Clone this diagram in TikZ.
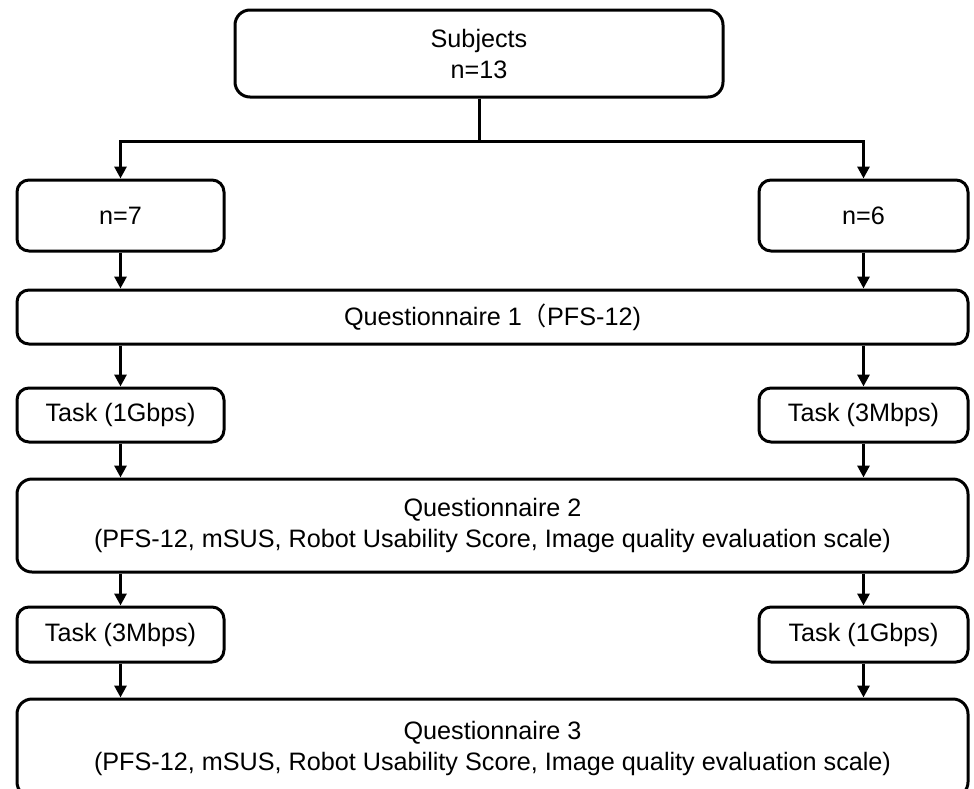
\documentclass[tikz,border=0pt]{standalone}
\usepackage{fontspec}
\setmainfont{Liberation Sans}
\newfontfamily\cjk{Noto Sans CJK JP}
\usetikzlibrary{arrows.meta}
\begin{document}
\begin{tikzpicture}[x=1pt,y=-1pt,
  box/.style={draw, line width=3pt, rounded corners=12pt, inner sep=0pt, align=center,
    font=\fontsize{25.2}{31}\selectfont},
  arr/.style={line width=3pt, -{Triangle[length=12pt,width=12pt]}}]
\useasboundingbox (0,0) rectangle (974,788);
\node[box, minimum width=488pt, minimum height=87pt, rounded corners=15pt] (subj) at (479,53.5) {Subjects\\n=13};
\node[box, minimum width=207pt, minimum height=71pt] (n7) at (120.5,215.5) {n=7};
\node[box, minimum width=209pt, minimum height=71pt] (n6) at (863.5,215.5) {n=6};
\node[box, minimum width=951pt, minimum height=54pt] (q1) at (492.5,317) {Questionnaire 1{\cjk （}PFS-12)};
\node[box, minimum width=207pt, minimum height=54pt] (t1L) at (120.5,415) {Task (1Gbps)};
\node[box, minimum width=209pt, minimum height=54pt] (t1R) at (863.5,415) {Task (3Mbps)};
\node[box, minimum width=951pt, minimum height=93pt, rounded corners=15pt] (q2) at (492.5,525.5) {Questionnaire 2\\(PFS-12, mSUS, Robot Usability Score, Image quality evaluation scale)};
\node[box, minimum width=207pt, minimum height=55pt] (t2L) at (120.5,634.5) {Task (3Mbps)};
\node[box, minimum width=209pt, minimum height=55pt] (t2R) at (863.5,634.5) {Task (1Gbps)};
\node[box, minimum width=951pt, minimum height=98pt, rounded corners=15pt] (q3) at (492.5,748) {Questionnaire 3\\(PFS-12, mSUS, Robot Usability Score, Image quality evaluation scale)};
\coordinate (split) at (479,141);
\draw[arr] (subj.south) -- (split) -| (n7.north);
\draw[arr] (split) -| (n6.north);
\draw[arr] (n7.south) -- (q1.north -| n7.south);
\draw[arr] (n6.south) -- (q1.north -| n6.south);
\draw[arr] (q1.south -| t1L.north) -- (t1L.north);
\draw[arr] (q1.south -| t1R.north) -- (t1R.north);
\draw[arr] (t1L.south) -- (q2.north -| t1L.south);
\draw[arr] (t1R.south) -- (q2.north -| t1R.south);
\draw[arr] (q2.south -| t2L.north) -- (t2L.north);
\draw[arr] (q2.south -| t2R.north) -- (t2R.north);
\draw[arr] (t2L.south) -- (q3.north -| t2L.south);
\draw[arr] (t2R.south) -- (q3.north -| t2R.south);
\end{tikzpicture}
\end{document}
